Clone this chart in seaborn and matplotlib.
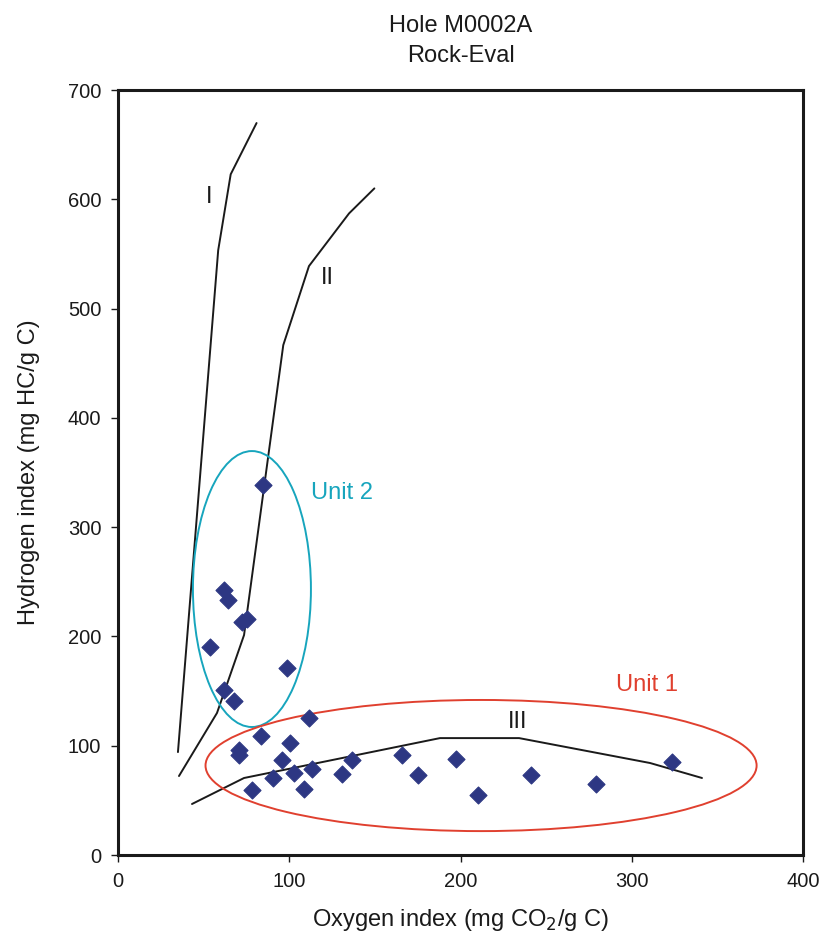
import matplotlib
matplotlib.use("Agg")
import matplotlib.pyplot as plt
from matplotlib.patches import Ellipse
import seaborn as sns
import pandas as pd

# Sample data (Oxygen index, Hydrogen index)
oi = [84.7, 61.9, 64.2, 75.3, 72.4, 53.7, 98.7, 61.9, 67.7,
      111.5, 83.5, 70.7, 70.7, 100.4, 95.8, 90.6, 78.2, 102.8, 113.3,
      108.6, 130.8, 136.7, 165.8, 175.2, 197.4, 210.2, 241.2, 279.1, 323.5]
hi = [338.5, 242.5, 233.0, 216.0, 213.0, 190.0, 171.0, 151.0, 141.0,
      125.0, 109.0, 96.0, 91.5, 102.5, 87.0, 70.5, 59.5, 75.0, 78.7,
      60.4, 74.0, 87.0, 91.5, 73.0, 88.0, 55.0, 73.0, 65.0, 85.0]

# Kerogen type boundary curves
type1_x = [35.0, 58.5, 65.8, 80.9]
type1_y = [94.2, 553.4, 622.9, 669.8]
type2_x = [35.6, 57.8, 73.6, 96.5, 111.5, 134.9, 149.7]
type2_y = [72.3, 130.0, 201.3, 466.6, 538.9, 587.1, 610.0]
type3_x = [43.2, 73.6, 188.0, 234.2, 310.7, 341.0]
type3_y = [46.7, 70.5, 107.0, 107.0, 84.2, 70.5]

x_ticks = [0, 100, 200, 300, 400]
y_ticks = [0, 100, 200, 300, 400, 500, 600, 700]

sns.set_style("ticks")
plt.rcParams['font.family'] = ['Liberation Sans', 'DejaVu Sans']

fig = plt.figure(figsize=(8.27, 9.36), dpi=100)
ax = fig.add_axes([0.1427, 0.0865, 0.8283, 0.8173])

ink = "#1a1a1a"
for xs, ys in [(type1_x, type1_y), (type2_x, type2_y), (type3_x, type3_y)]:
    sns.lineplot(x=xs, y=ys, ax=ax, color=ink, lw=1.4, sort=False,
                 estimator=None, legend=False)

df = pd.DataFrame({"OI": oi, "HI": hi})
sns.scatterplot(data=df, x="OI", y="HI", ax=ax, marker="D", s=75,
                color="#2d3783", edgecolor="#2d3783", linewidth=0.8,
                zorder=5, legend=False)

ax.add_patch(Ellipse((78.2, 243.4), 68.9, 252.5, fill=False,
                     edgecolor="#17a5bd", lw=1.4, zorder=4))
ax.add_patch(Ellipse((212.0, 81.9), 321.8, 120.0, fill=False,
                     edgecolor="#e0402f", lw=1.4, zorder=4))

ax.text(53.1, 602, "I", fontsize=17, ha="center", va="center", color=ink)
ax.text(122.0, 528, "II", fontsize=17, ha="center", va="center", color=ink)
ax.text(233.6, 121.7, "III", fontsize=17, ha="center", va="center", color=ink)
ax.text(130.8, 331, "Unit 2", fontsize=17, ha="center", va="center", color="#17a5bd")
ax.text(309.0, 155.5, "Unit 1", fontsize=17, ha="center", va="center", color="#e0402f")

ax.set_xlim(0, 400)
ax.set_ylim(0, 700)
ax.set_xticks(x_ticks)
ax.set_yticks(y_ticks)
ax.set_xticklabels([str(t) for t in x_ticks])
ax.set_yticklabels([str(t) for t in y_ticks])
ax.tick_params(axis="both", labelsize=14.5, length=5, width=1, color=ink,
               labelcolor=ink, direction="out", pad=7)
for sp in ax.spines.values():
    sp.set_visible(True)
    sp.set_linewidth(2.2)
    sp.set_color(ink)

ax.set_xlabel("Oxygen index (mg CO$_2$/g C)", fontsize=17, color=ink, labelpad=12)
ax.set_ylabel("Hydrogen index (mg HC/g C)", fontsize=17, color=ink, labelpad=20)
ax.set_title("Hole M0002A\nRock-Eval", fontsize=17, color=ink, pad=20,
             linespacing=1.5)

fig.savefig("out.png", dpi=100)
